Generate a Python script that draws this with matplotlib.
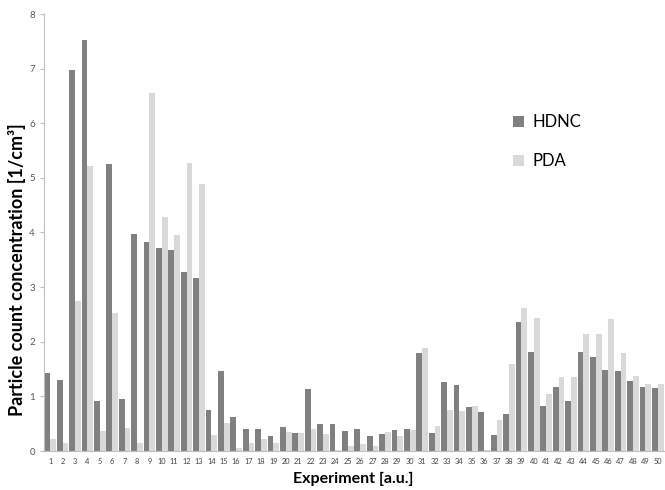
import matplotlib
matplotlib.use("Agg")
import matplotlib.pyplot as plt
import numpy as np

plt.rcParams['font.family'] = ['Lato', 'DejaVu Sans']

experiments = [str(i) for i in range(1, 51)]
hdnc = [1.42, 1.30, 6.98, 7.52, 0.91, 5.26, 0.96, 3.98, 3.83, 3.72,
        3.68, 3.28, 3.16, 0.75, 1.46, 0.63, 0.41, 0.41, 0.27, 0.44,
        0.33, 1.14, 0.49, 0.49, 0.37, 0.40, 0.27, 0.31, 0.38, 0.40,
        1.80, 0.33, 1.26, 1.20, 0.81, 0.72, 0.29, 0.68, 2.37, 1.81,
        0.83, 1.17, 0.92, 1.81, 1.72, 1.48, 1.46, 1.28, 1.18, 1.16]
pda = [0.22, 0.15, 2.75, 5.22, 0.37, 2.52, 0.42, 0.15, 6.55, 4.28,
       3.95, 5.28, 4.89, 0.29, 0.52, 0.06, 0.14, 0.22, 0.14, 0.35,
       0.33, 0.40, 0.31, 0.02, 0.10, 0.13, 0.09, 0.35, 0.28, 0.38,
       1.88, 0.45, 0.75, 0.73, 0.83, 0.02, 0.56, 1.59, 2.61, 2.44,
       1.04, 1.36, 1.36, 2.14, 2.14, 2.42, 1.79, 1.37, 1.22, 1.22]
yticks = list(range(0, 9))

fig = plt.figure(figsize=(6.65, 4.9), dpi=100)
ax = fig.add_axes([44/665, 1-451/490, (664-44)/665, (451-14)/490])

x = np.arange(len(experiments))
w = 0.46
ax.bar(x - w/2, hdnc, width=w, color='#808080', label='HDNC')
ax.bar(x + w/2, pda, width=w, color='#d9d9d9', label='PDA')

ax.set_xlim(-0.5, len(experiments) - 0.5)
ax.set_ylim(0, 8)
ax.set_yticks(yticks)
ax.set_yticklabels([str(v) for v in yticks], fontsize=7, color='#595959')
ax.set_xticks(x)
ax.set_xticklabels(experiments, fontsize=5.3, color='#404040')
ax.tick_params(axis='x', length=0, pad=5)
ax.tick_params(axis='y', length=3, color='#bfbfbf', width=0.8, pad=3.5)

for s in ['top', 'right']:
    ax.spines[s].set_visible(False)
for s in ['left', 'bottom']:
    ax.spines[s].set_color('#bfbfbf')
    ax.spines[s].set_linewidth(0.8)

ax.set_xlabel('Experiment [a.u.]', fontsize=11.5, fontweight='bold')
ax.xaxis.set_label_coords((353-44)/620, (451-479)/437)
ax.xaxis.label.set_verticalalignment('center')
ax.set_ylabel('Particle count concentration [1/cm³]', fontsize=13,
              fontweight='bold')
ax.yaxis.set_label_coords((17-44)/620, (451-270)/437)
ax.yaxis.label.set_verticalalignment('center')

ax.legend(loc='upper left', bbox_to_anchor=(513/665, 1-114/490),
          bbox_transform=fig.transFigure, frameon=False, fontsize=12,
          handlelength=0.65, handleheight=0.65, handletextpad=0.5,
          labelspacing=1.4, borderaxespad=0, borderpad=0)

fig.savefig('out.png', dpi=100)
